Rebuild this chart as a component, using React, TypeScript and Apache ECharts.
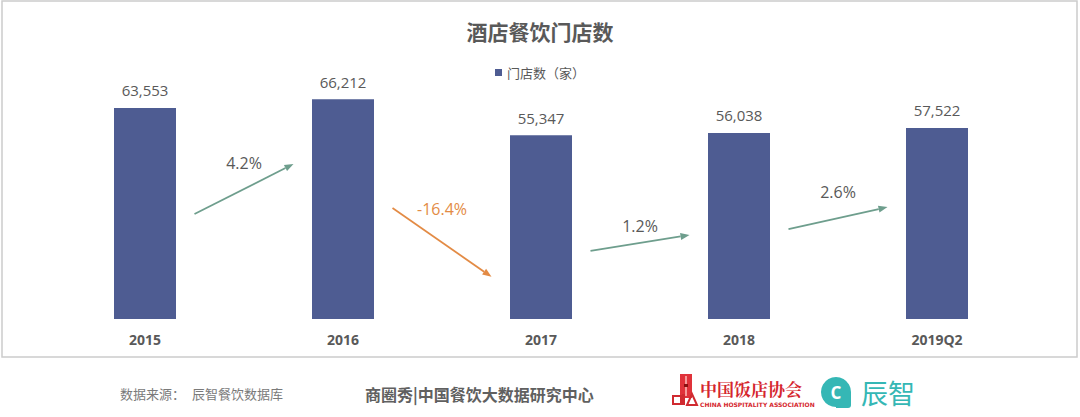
import React, { useEffect, useRef } from "react";
import * as echarts from "echarts";

const categories = ["2015", "2016", "2017", "2018", "2019Q2"];
const stores = [63553, 66212, 55347, 56038, 57522];
const seriesName = "门店数（家）";
const chartTitle = "酒店餐饮门店数";
// arrow anchors (y in store units) between consecutive bars
const arrowStartY = [31600, 33400, 20500, 27100];
const arrowEndY = [46700, 12700, 25300, 33700];
const growthLabelY = [47000, 33100, 28000, 38300];
const sourceLabel = "数据来源：";
const sourceName = "辰智餐饮数据库";
const footerCenter = "商圈秀|中国餐饮大数据研究中心";

const growth = stores.slice(1).map((v, i) => (v / stores[i] - 1) * 100);

const TEXT = "#595959";
const BAR = "#4E5C92";
const UP = "#6E9E8D";
const DOWN = "#E38B45";
const NUM_FONT = "'Open Sans', 'Noto Sans CJK SC', sans-serif";
const CJK_FONT = "'Noto Sans CJK SC', sans-serif";

export default function App() {
  const ref = useRef<HTMLDivElement>(null);
  useEffect(() => {
    document.body.style.margin = "0";
    const chart = echarts.init(ref.current!, null, { renderer: "svg" });
    const arrowData = growth.map((g, i) => [
      i + 0.75,
      arrowStartY[i],
      i + 1.25,
      arrowEndY[i],
      growthLabelY[i],
      g,
    ]);
    chart.setOption({
      animation: false,
      backgroundColor: "#ffffff",
      title: {
        text: chartTitle,
        left: "center",
        top: 15,
        textStyle: { fontFamily: CJK_FONT, fontSize: 21, fontWeight: "bold", color: TEXT },
      },
      legend: {
        top: 61,
        left: "center",
        itemWidth: 7,
        itemHeight: 7,
        itemGap: 6,
        icon: "rect",
        textStyle: { fontFamily: CJK_FONT, fontSize: 13, color: TEXT },
        data: [seriesName],
      },
      grid: { left: 46, right: 44, top: 60, bottom: 98 },
      xAxis: [
        {
          type: "category",
          data: categories,
          axisLine: { show: false },
          axisTick: { show: false },
          axisLabel: {
            margin: 13,
            fontFamily: NUM_FONT,
            fontSize: 14,
            fontWeight: "bold",
            color: TEXT,
          },
        },
        { type: "value", min: 0, max: 5, show: false },
      ],
      yAxis: { type: "value", min: 0, max: 78000, show: false },
      series: [
        {
          name: seriesName,
          type: "bar",
          data: stores,
          barWidth: 62,
          itemStyle: { color: BAR },
          label: {
            show: true,
            position: "top",
            distance: 10,
            fontFamily: NUM_FONT,
            fontSize: 15,
            color: TEXT,
            formatter: (p: any) => Number(p.value).toLocaleString("en-US"),
          },
        },
        {
          type: "custom",
          xAxisIndex: 1,
          yAxisIndex: 0,
          data: arrowData,
          silent: true,
          renderItem: (params: any, api: any) => {
            const p0 = api.coord([api.value(0), api.value(1)]);
            const p1 = api.coord([api.value(2), api.value(3)]);
            const pl = api.coord([(api.value(0) + api.value(2)) / 2, api.value(4)]);
            const g = api.value(5);
            const color = g < 0 ? DOWN : UP;
            const dx = p1[0] - p0[0];
            const dy = p1[1] - p0[1];
            const len = Math.sqrt(dx * dx + dy * dy);
            const ux = dx / len;
            const uy = dy / len;
            const head = 9;
            const hw = 3.5;
            const bx = p1[0] - ux * head;
            const by = p1[1] - uy * head;
            return {
              type: "group",
              children: [
                {
                  type: "line",
                  shape: { x1: p0[0], y1: p0[1], x2: bx, y2: by },
                  style: { stroke: color, lineWidth: 1.8 },
                },
                {
                  type: "polygon",
                  shape: {
                    points: [
                      [p1[0], p1[1]],
                      [bx - uy * hw, by + ux * hw],
                      [bx + uy * hw, by - ux * hw],
                    ],
                  },
                  style: { fill: color },
                },
                {
                  type: "text",
                  x: pl[0],
                  y: pl[1],
                  style: {
                    text: g.toFixed(1) + "%",
                    fill: g < 0 ? DOWN : TEXT,
                    fontSize: 16,
                    fontFamily: NUM_FONT,
                    align: "center",
                    verticalAlign: "middle",
                  },
                },
              ],
            };
          },
        },
      ],
      graphic: [
        {
          type: "rect",
          shape: { x: 2, y: 1, width: 1075, height: 356 },
          style: { fill: "none", stroke: "#cccccc", lineWidth: 1.5 },
          silent: true,
        },
        {
          type: "text",
          x: 120,
          y: 393,
          style: {
            text: sourceLabel,
            fill: "#7a7a7a",
            fontSize: 13,
            fontFamily: CJK_FONT,
            verticalAlign: "middle",
          },
        },
        {
          type: "text",
          x: 192,
          y: 393,
          style: {
            text: sourceName,
            fill: "#7a7a7a",
            fontSize: 13,
            fontFamily: CJK_FONT,
            verticalAlign: "middle",
          },
        },
        {
          type: "text",
          x: 365,
          y: 394,
          style: {
            text: footerCenter,
            fill: "#606060",
            fontSize: 16,
            fontWeight: "bold",
            fontFamily: CJK_FONT,
            verticalAlign: "middle",
          },
        },
        // China Hospitality Association logo
        {
          type: "group",
          children: [
            { type: "rect", shape: { x: 680, y: 374, width: 12, height: 24 }, style: { fill: "#e0323a" } },
            { type: "rect", shape: { x: 685, y: 376, width: 2, height: 20 }, style: { fill: "#f59a9a" } },
            { type: "rect", shape: { x: 684, y: 384, width: 4, height: 3 }, style: { fill: "#8a1010" } },
            { type: "rect", shape: { x: 673, y: 396, width: 8, height: 8 }, style: { fill: "none", stroke: "#d02a30", lineWidth: 2 } },
            { type: "rect", shape: { x: 682, y: 394, width: 3, height: 11 }, style: { fill: "#d02a30" } },
            { type: "polygon", shape: { points: [[687, 405], [692, 394], [697, 405]] }, style: { fill: "none", stroke: "#d02a30", lineWidth: 2 } },
          ],
        },
        {
          type: "text",
          x: 700,
          y: 388,
          style: {
            text: "中国饭店协会",
            fill: "#d5262e",
            fontSize: 17,
            fontWeight: "bold",
            fontFamily: "'Noto Serif CJK SC', 'Noto Sans CJK SC', serif",
            verticalAlign: "middle",
          },
        },
        {
          type: "text",
          x: 700,
          y: 404,
          style: {
            text: "CHINA HOSPITALITY ASSOCIATION",
            fill: "#d5262e",
            fontSize: 6,
            fontWeight: "bold",
            fontFamily: "'DejaVu Sans', sans-serif",
            verticalAlign: "middle",
          },
        },
        // Chenzhi logo
        { type: "circle", shape: { cx: 836, cy: 392, r: 15 }, style: { fill: "#35b7b5" } },
        { type: "rect", shape: { x: 836, y: 392, width: 15, height: 16, r: [0, 0, 3, 0] }, style: { fill: "#35b7b5" } },
        {
          type: "text",
          x: 836,
          y: 392,
          style: {
            text: "C",
            fill: "#ffffff",
            fontSize: 17,
            fontWeight: "bold",
            fontFamily: "'Open Sans', sans-serif",
            align: "center",
            verticalAlign: "middle",
          },
        },
        {
          type: "text",
          x: 861,
          y: 392,
          style: {
            text: "辰智",
            fill: "#35b7b5",
            fontSize: 27,
            fontFamily: CJK_FONT,
            verticalAlign: "middle",
          },
        },
      ],
    });
    return () => chart.dispose();
  }, []);
  return (
    <div
      ref={ref}
      style={{ position: "absolute", left: 0, top: 0, width: 1080, height: 417 }}
    />
  );
}
